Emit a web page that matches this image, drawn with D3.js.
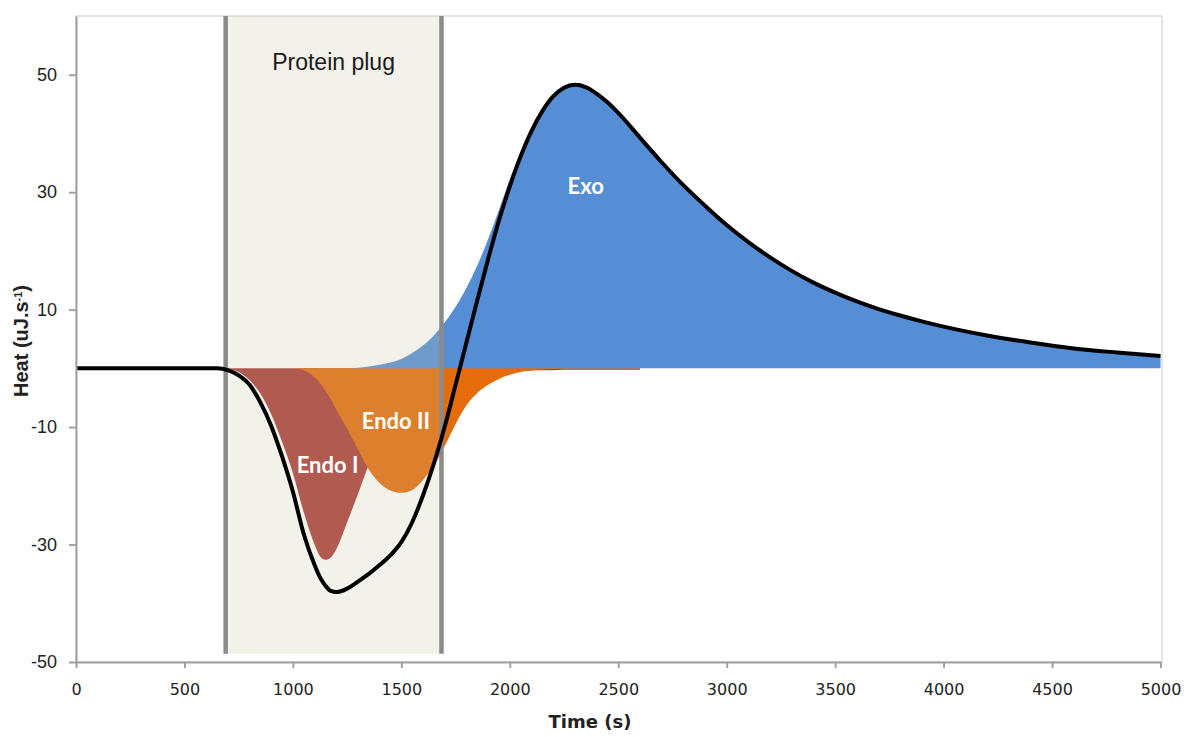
<!DOCTYPE html>
<html>
<head>
  <meta charset="utf-8">
  <script src="https://d3js.org/d3.v7.min.js"></script>
</head>
<style>
  body { margin: 0; background: #fff; }
  svg { display: block; }
</style>
<body>
  <svg width="1186" height="737"></svg>

  <script>
    // Time grid (s)
    const time = [0, 500, 650, 700, 750, 800, 850, 900, 950, 1000, 1050, 1100, 1125, 1150, 1175, 1200, 1250,
      1300, 1350, 1400, 1450, 1500, 1550, 1600, 1650, 1700, 1750, 1800, 1850, 1900, 1950, 2000,
      2050, 2100, 2150, 2200, 2250, 2300, 2350, 2400, 2450, 2500, 2600, 2700, 2800, 2900, 3000, 3100,
      3200, 3300, 3400, 3500, 3600, 3700, 3800, 3900, 4000, 4200, 4400, 4600, 4800, 5000];

    // Measured total heat (black line)
    const total = [0, 0, 0, -0.3, -1.2, -2.8, -5.8, -9.8, -15, -21, -28.2, -33.5, -35.6, -37, -37.9, -38.1, -37.5,
      -36.3, -35, -33.5, -31.8, -29.6, -26.2, -21.6, -16.2, -9.9, -2.8, 4.4, 11.6, 18.6, 25.2, 31.0,
      36.1, 40.4, 43.8, 46.3, 47.8, 48.3, 47.9, 46.8, 45.3, 43.5, 39.3, 35.1, 31.2, 27.7, 24.4, 21.5,
      18.9, 16.6, 14.6, 12.9, 11.4, 10.1, 9.0, 8.0, 7.1, 5.6, 4.4, 3.4, 2.7, 2.1];

    // Exothermic component (blue)
    const exo = [0, 0, 0, 0, 0, 0, 0, 0, 0, 0, 0, 0, 0, 0, 0, 0, 0,
      0.1, 0.3, 0.6, 1.0, 1.6, 2.6, 3.9, 5.6, 7.8, 10.5, 13.7, 17.5, 22.0, 27.0, 32.2,
      36.9, 40.9, 44.1, 46.4, 47.8, 48.3, 47.9, 46.8, 45.3, 43.5, 39.3, 35.1, 31.2, 27.7, 24.4, 21.5,
      18.9, 16.6, 14.6, 12.9, 11.4, 10.1, 9.0, 8.0, 7.1, 5.6, 4.4, 3.4, 2.7, 2.1];

    // Endothermic component I (red), ends at ~2600 s
    const endo1 = [0, 0, 0, -0.1, -0.6, -2.0, -4.3, -7.8, -12.5, -17.8, -24.5, -30.0, -32.0, -32.6, -32.2, -30.8, -26.2,
      -21.4, -16.5, -13.5, -11.5, -9.5, -7.5, -5.8, -4.3, -3.2, -2.3, -1.6, -1.1, -0.8, -0.6, -0.45,
      -0.4, -0.35, -0.3, -0.3, -0.25, -0.25, -0.25, -0.25, -0.25, -0.25, -0.25, null, null, null, null, null,
      null, null, null, null, null, null, null, null, null, null, null, null, null, null];

    // Endothermic component II (orange)
    const endo2 = [0, 0, 0, 0, 0, 0, 0, 0, 0, 0, -0.3, -1.5, -2.5, -3.8, -5.3, -7, -10.3,
      -13.8, -17.2, -19.5, -20.8, -21.2, -20.7, -19, -16.5, -13.2, -9.5, -6.3, -4.2, -2.8, -1.8, -1.1,
      -0.6, -0.3, -0.2, -0.1, -0.05, 0, 0, 0, 0, 0, 0, 0, 0, 0, 0, 0,
      0, 0, 0, 0, 0, 0, 0, 0, 0, 0, 0, 0, 0, 0];

    const plug = [690, 1685];
    const xTicks = [0, 500, 1000, 1500, 2000, 2500, 3000, 3500, 4000, 4500, 5000];
    const yTicks = [-50, -30, -10, 10, 30, 50];

    const svg = d3.select('svg');

    const x = d3.scaleLinear().domain([0, 5000]).range([76, 1160.5]);
    const y = d3.scaleLinear().domain([-50, 60]).range([662, 16]);

    const pts = s => time.map((t, i) => ({t: t, v: s[i]}));

    const area = d3.area()
      .defined(d => d.v !== null)
      .x(d => x(d.t))
      .y0(y(0))
      .y1(d => y(d.v))
      .curve(d3.curveMonotoneX);

    const line = d3.line()
      .x(d => x(d.t))
      .y(d => y(d.v))
      .curve(d3.curveMonotoneX);

    // plot border
    svg.append('rect')
      .attr('x', x(0)).attr('y', y(60))
      .attr('width', x(5000) - x(0) + 1.5).attr('height', y(-50) - y(60))
      .attr('fill', 'none').attr('stroke', '#dcdcdc').attr('stroke-width', 1.5);

    // component areas
    svg.append('path').datum(pts(endo1)).attr('d', area).attr('fill', '#a93b37');
    svg.append('path').datum(pts(endo2)).attr('d', area).attr('fill', '#e46c0a');
    svg.append('path').datum(pts(exo)).attr('d', area).attr('fill', '#558ed5');

    // protein plug band (translucent, laid over the fills)
    svg.append('rect')
      .attr('x', x(plug[0])).attr('y', y(60))
      .attr('width', x(plug[1]) - x(plug[0]))
      .attr('height', y(-48.6) - y(60))
      .attr('fill', 'rgb(198,194,164)').attr('fill-opacity', 0.23);

    svg.selectAll('.plugline')
      .data(plug)
      .enter()
      .append('line')
      .attr('x1', d => x(d)).attr('x2', d => x(d))
      .attr('y1', y(60)).attr('y2', y(-48.6))
      .attr('stroke', '#8a8a8a').attr('stroke-width', 4.5);

    svg.append('text')
      .attr('x', (x(plug[0]) + x(plug[1])) / 2).attr('y', 70)
      .attr('text-anchor', 'middle')
      .style('font-family', 'Liberation Sans, Arial, sans-serif')
      .style('font-size', '23px')
      .style('fill', '#1a1a1a')
      .text('Protein plug');

    // total line
    svg.append('path').datum(pts(total))
      .attr('d', line)
      .attr('fill', 'none').attr('stroke', '#000').attr('stroke-width', 4)
      .attr('stroke-linejoin', 'round');

    // component labels
    const labels = [
      {text: 'Exo', t: 2350, v: 31},
      {text: 'Endo II', t: 1475, v: -9},
      {text: 'Endo I', t: 1160, v: -16.5}
    ];
    svg.selectAll('.lab')
      .data(labels)
      .enter()
      .append('text')
      .attr('x', d => x(d.t)).attr('y', d => y(d.v))
      .attr('text-anchor', 'middle')
      .attr('dy', '0.35em')
      .style('font-family', 'Lato, Open Sans, sans-serif')
      .style('font-weight', 'bold')
      .style('font-size', '22px')
      .style('fill', '#fff')
      .text(d => d.text);

    // axes
    const yAxis = svg.append('g')
      .attr('transform', `translate(${x(0)},0)`)
      .call(d3.axisLeft(y).tickValues(yTicks).tickFormat(d => String(d))
        .tickSize(7).tickPadding(12).tickSizeOuter(0));
    yAxis.selectAll('text')
      .style('font-family', 'Liberation Sans, Arial, sans-serif')
      .style('font-size', '18px')
      .style('fill', '#222');

    const xAxis = svg.append('g')
      .attr('transform', `translate(0,${y(-50)})`)
      .call(d3.axisBottom(x).tickValues(xTicks).tickFormat(d => String(d))
        .tickSize(6).tickPadding(16).tickSizeOuter(0));
    xAxis.selectAll('text')
      .style('font-family', 'DejaVu Sans, Verdana, sans-serif')
      .style('font-size', '16px')
      .style('fill', '#222');

    svg.selectAll('.domain, .tick line')
      .attr('stroke', '#a0a0a0').attr('stroke-width', 2);

    // axis titles
    svg.append('text')
      .attr('x', 590).attr('y', 728)
      .attr('text-anchor', 'middle')
      .style('font-family', 'DejaVu Sans, Verdana, sans-serif')
      .style('font-weight', 'bold')
      .style('font-size', '18px')
      .style('fill', '#222')
      .text('Time (s)');

    const yt = svg.append('text')
      .attr('transform', 'translate(28,341) rotate(-90)')
      .attr('text-anchor', 'middle')
      .style('font-family', 'Liberation Sans, Arial, sans-serif')
      .style('font-weight', 'bold')
      .style('font-size', '20px')
      .style('fill', '#222');
    yt.append('tspan').text('Heat (uJ.s');
    yt.append('tspan').attr('baseline-shift', 'super').style('font-size', '11px').text('-1');
    yt.append('tspan').text(')');
  </script>
</body>
</html>
